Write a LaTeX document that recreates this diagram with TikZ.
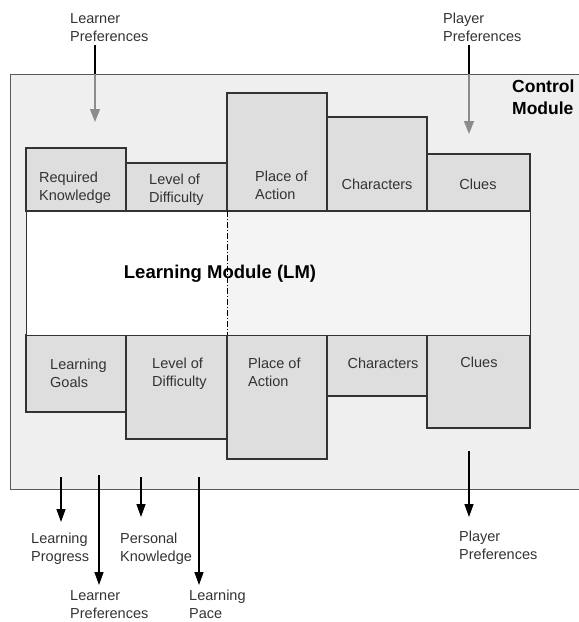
\documentclass[tikz,border=0pt]{standalone}
\usepackage{fontspec}
\setmainfont{Liberation Sans}
\usetikzlibrary{arrows.meta}
\definecolor{outerfill}{HTML}{EFEFEF}
\definecolor{boxfill}{HTML}{DEDEDE}
\definecolor{lmright}{HTML}{F4F4F4}
\definecolor{txt}{HTML}{333333}
\definecolor{garrow}{HTML}{8C8C8C}
\begin{document}
\begin{tikzpicture}[x=1pt,y=-1pt,
  mod/.style={draw=black!80, line width=1.1pt, fill=boxfill, inner sep=0pt, outer sep=0pt},
  lab/.style={font=\fontsize{14.5}{18}\selectfont, text=txt, inner sep=0pt, align=left},
  big/.style={font=\bfseries\fontsize{18.5}{22}\selectfont, inner sep=0pt, align=left},
  arr/.style={line width=1.3pt, -{Triangle[length=13pt,width=9pt]}},
  garr/.style={draw=garrow, line width=1.3pt, -{Triangle[length=13pt,width=10pt]}, color=garrow},
]
\useasboundingbox (0,0) rectangle (579,622);
\begin{scope}
\clip (0,0) rectangle (579,622);
% outer control module
\node[draw=black!65, line width=0.9pt, fill=outerfill, minimum width=620pt, minimum height=415pt, anchor=north west, inner sep=0pt] (cm) at (10,74) {};
\node[big, font=\bfseries\fontsize{17.5}{22}\selectfont, anchor=north west] (cmt) at (512,80) {Control\\Module};

% top boxes
\node[mod, anchor=south west, minimum width=100pt, minimum height=63pt] (rk) at (26,211) {};
\node[mod, anchor=south west, minimum width=101pt, minimum height=48pt] (ld1) at (126,211) {};
\node[mod, anchor=south west, minimum width=100pt, minimum height=118pt] (pa1) at (227,211) {};
\node[mod, anchor=south west, minimum width=100pt, minimum height=94pt] (ch1) at (327,211) {};
\node[mod, anchor=south west, minimum width=103pt, minimum height=57pt] (cl1) at (427,211) {};

% bottom boxes
\node[mod, anchor=north west, minimum width=100pt, minimum height=77pt] (lg) at (26,335) {};
\node[mod, anchor=north west, minimum width=101pt, minimum height=104pt] (ld2) at (126,335) {};
\node[mod, anchor=north west, minimum width=100pt, minimum height=124pt] (pa2) at (227,335) {};
\node[mod, anchor=north west, minimum width=100pt, minimum height=61pt] (ch2) at (327,335) {};
\node[mod, anchor=north west, minimum width=103pt, minimum height=93pt] (cl2) at (427,335) {};

% learning module
\fill[white] (26,211) rectangle (227,335);
\fill[lmright] (227,211) rectangle (530,335);
\node[draw=black!80, line width=1.1pt, anchor=north west, minimum width=504pt, minimum height=124pt, inner sep=0pt] (lm) at (26,211) {};
\draw[line width=0.8pt, dash pattern=on 6pt off 2pt on 1pt off 2pt] (pa1.south west) -- (pa2.north west);
\node[big, anchor=base] (lmt) at (220,278) {Learning Module (LM)};

% top labels
\node[lab, anchor=north west] (trk) at (39,172) {Required\\Knowledge};
\node[lab, anchor=north west] (tld1) at (149,174) {Level of\\Difficulty};
\node[lab, anchor=north west] (tpa1) at (255,171) {Place of\\Action};
\node[lab] (tch1) at (377,184) {Characters};
\node[lab] (tcl1) at (478,184) {Clues};

% bottom labels
\node[lab, anchor=north west] (tlg) at (50,359) {Learning\\Goals};
\node[lab, anchor=north west] (tld2) at (152,358) {Level of\\Difficulty};
\node[lab, anchor=north west] (tpa2) at (248,358) {Place of\\Action};
\node[lab] (tch2) at (383,363) {Characters};
\node[lab] (tcl2) at (479,362) {Clues};

% inputs at the top
\node[lab, anchor=north west] (inlp) at (70,13) {Learner\\Preferences};
\node[lab, anchor=north west] (inpp) at (443,13) {Player\\Preferences};
\coordinate (lpa) at (95,45);
\coordinate (lpb) at (95,74);
\coordinate (lpc) at (95,122);
\coordinate (ppa) at (469,45);
\coordinate (ppb) at (469,74);
\coordinate (ppc) at (469,134);
\draw[line width=1.3pt] (lpa) -- (lpb);
\draw[garr] (lpb) -- (lpc);
\draw[line width=1.3pt] (ppa) -- (ppb);
\draw[garr] (ppb) -- (ppc);

% outputs at the bottom
\node[lab, anchor=north west] (outlprog) at (31,533) {Learning\\Progress};
\node[lab, anchor=north west] (outpk) at (120,533) {Personal\\Knowledge};
\node[lab, anchor=north west] (outlp) at (70,590) {Learner\\Preferences};
\node[lab, anchor=north west] (outpace) at (189,590) {Learning\\Pace};
\node[lab, anchor=north west] (outpp) at (459,531) {Player\\Preferences};
\coordinate (s1) at (61,477);  \coordinate (e1) at (61,522);
\coordinate (s2) at (99,475);  \coordinate (e2) at (99,585);
\coordinate (s3) at (141,477); \coordinate (e3) at (141,517);
\coordinate (s4) at (199,477); \coordinate (e4) at (199,585);
\coordinate (s5) at (469,451); \coordinate (e5) at (469,517);
\draw[arr] (s1) -- (e1);
\draw[arr] (s2) -- (e2);
\draw[arr] (s3) -- (e3);
\draw[arr] (s4) -- (e4);
\draw[arr] (s5) -- (e5);
\end{scope}
\end{tikzpicture}
\end{document}
